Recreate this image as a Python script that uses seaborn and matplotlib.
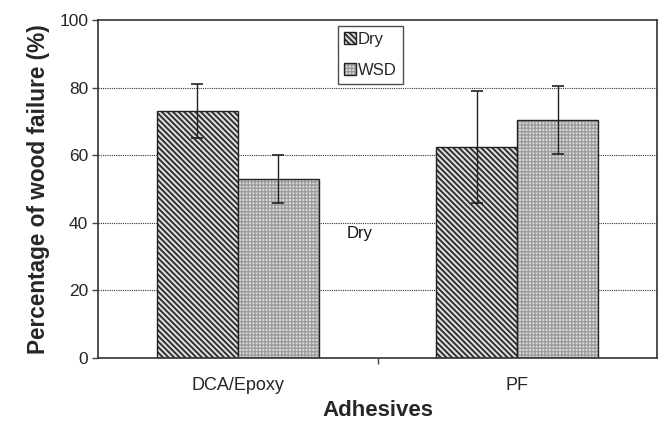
import matplotlib
matplotlib.use("Agg")
import matplotlib.pyplot as plt
import seaborn as sns
import pandas as pd
from matplotlib.colors import to_rgba
from matplotlib.patches import Patch

adhesives = ["DCA/Epoxy", "PF"]
treatments = ["Dry", "WSD"]
dry_values = [73.0, 62.5]
wsd_values = [53.0, 70.5]
dry_err = [8.0, 16.5]
wsd_err = [7.0, 10.0]

rows = []
for i, a in enumerate(adhesives):
    rows.append({"Adhesives": a, "Condition": "Dry", "value": dry_values[i], "err": dry_err[i]})
    rows.append({"Adhesives": a, "Condition": "WSD", "value": wsd_values[i], "err": wsd_err[i]})
df = pd.DataFrame(rows)

sns.set_theme(style="white")
plt.rcParams["font.family"] = ["Liberation Sans", "DejaVu Sans"]
plt.rcParams["hatch.linewidth"] = 1.3

fig = plt.figure(figsize=(6.62, 4.21), dpi=100)
ax = fig.add_axes([98/662, 1 - 358/421, (657-98)/662, (358-20)/421])

faces = {"Dry": "#dcdcdc", "WSD": "#dedede"}
hatches = {"Dry": "\\" * 6, "WSD": "+" * 5}
hatch_cols = {"Dry": "#2a2a2a", "WSD": "#9c9c9c"}
hatch_lw = {"Dry": 1.3, "WSD": 1.0}

sns.barplot(data=df, x="Adhesives", y="value", hue="Condition", order=adhesives,
            hue_order=treatments, palette=faces,
            width=0.58, errorbar=None, edgecolor="#222222", linewidth=1.0,
            ax=ax, legend=False, saturation=1)

for cont, cond in zip(ax.containers, treatments):
    sub = df[df["Condition"] == cond].set_index("Adhesives").loc[adhesives]
    for bar, v, e in zip(cont, sub["value"], sub["err"]):
        bar.set_hatch(hatches[cond])
        bar._hatch_color = to_rgba(hatch_cols[cond])
        bar._hatch_linewidth = hatch_lw[cond]
        cx = bar.get_x() + bar.get_width() / 2
        ax.errorbar(cx, v, yerr=e, fmt="none", ecolor="#222222", elinewidth=1.0,
                    capsize=4, capthick=1.2, zorder=5)

ax.set_ylim(0, 100)
ax.set_xlim(-0.5, 1.5)
ax.set_yticks([0, 20, 40, 60, 80, 100])
ax.set_yticklabels(["0", "20", "40", "60", "80", "100"], fontsize=12.5)
ax.set_xticks([0, 1])
ax.set_xticklabels(adhesives, fontsize=13)
ax.tick_params(axis="x", length=0, pad=14)
ax.tick_params(axis="y", length=4, width=1, color="#444444", left=True, direction="out", pad=3)
ax.set_xticks([0.5], minor=True)
ax.tick_params(axis="x", which="minor", length=4, width=1, color="#444444", bottom=True, direction="out")

for y in [20, 40, 60, 80]:
    ax.axhline(y, color="#333333", linestyle=(0, (1, 1)), linewidth=0.8, zorder=0)
ax.set_axisbelow(True)

for s in ["left", "bottom", "top", "right"]:
    ax.spines[s].set_visible(True)
    ax.spines[s].set_color("#333333")
    ax.spines[s].set_linewidth(1.2)

ax.set_xlabel("Adhesives", fontsize=16, fontweight="bold", labelpad=4)
ax.set_ylabel("Percentage of wood failure (%)", fontsize=16.3, fontweight="bold", labelpad=7)

handles = []
for cond in treatments:
    p = Patch(facecolor=faces[cond], edgecolor="#222222", hatch=hatches[cond], label=cond)
    handles.append(p)
leg = ax.legend(handles=handles, loc="upper left", bbox_to_anchor=((338-98)/559, 1 - 6/338),
                frameon=True, fancybox=False, edgecolor="#222222", fontsize=12,
                handlelength=0.7, handleheight=0.7, handletextpad=0.15, borderpad=0.35,
                labelspacing=0.95, borderaxespad=0)
leg.get_frame().set_linewidth(1.0)
for h, cond in zip(leg.legend_handles, treatments):
    h._hatch_color = to_rgba(hatch_cols[cond])
    h._hatch_linewidth = hatch_lw[cond]

ax.text(0.39, 36.8, "Dry", fontsize=12, ha="left", va="center", color="#111111")

fig.savefig("out.png", dpi=100)
